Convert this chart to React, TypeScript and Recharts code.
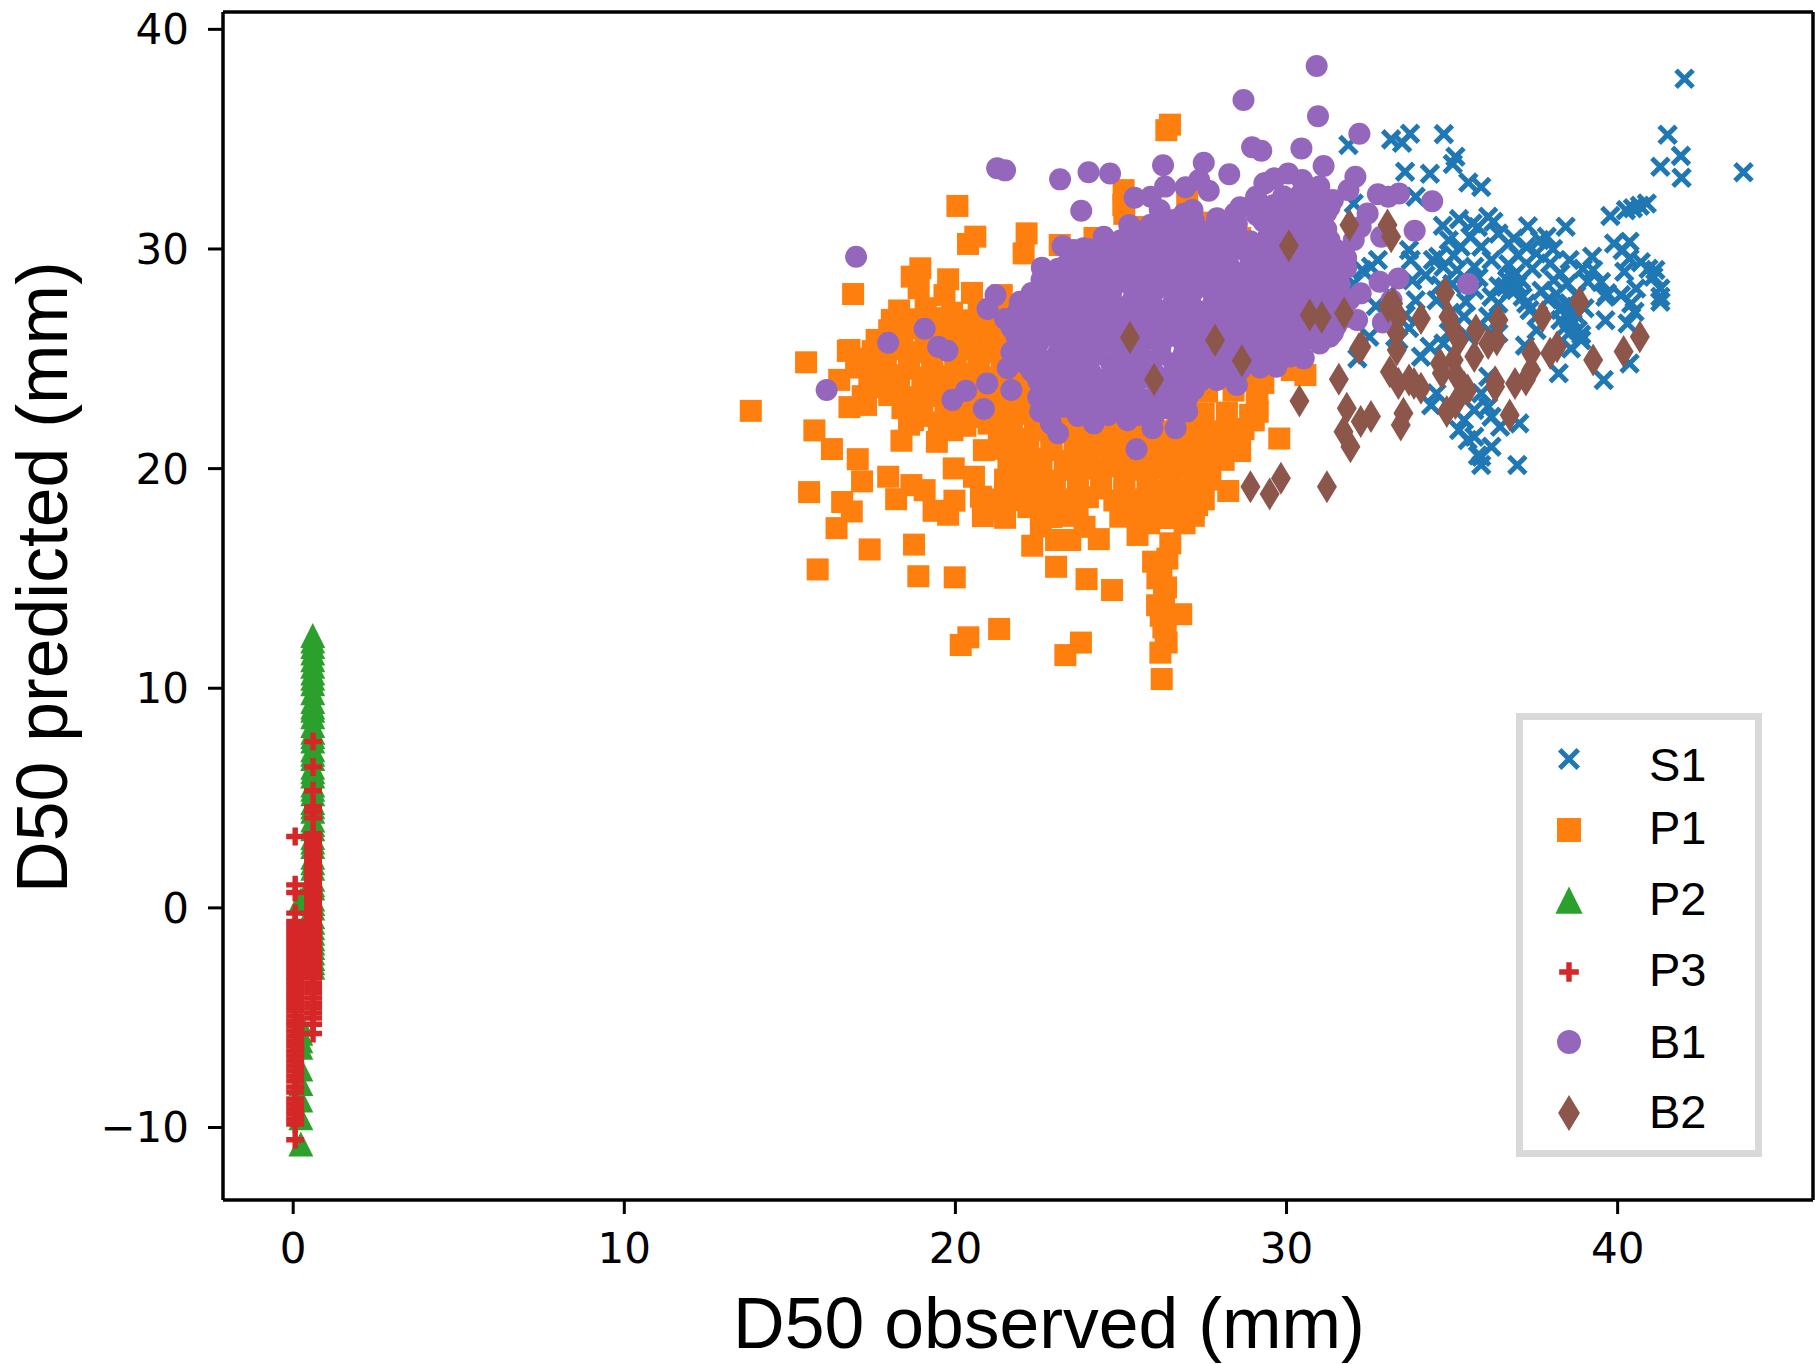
import { ScatterChart, Scatter, XAxis, YAxis, Legend, Label, ReferenceLine } from 'recharts';

const xTicks = [0, 10, 20, 30, 40];
const yTicks = [-10, 0, 10, 20, 30, 40];
const xDomain = [-2.12, 45.9];
const yDomain = [-13.3, 40.79];

const s1Points = [
  [42.02, 37.75], [41.51, 35.2], [41.91, 34.24], [41.29, 33.74], [41.93, 33.24], [43.8, 33.49], [31.87, 34.73], [33.16, 34.99],
  [33.49, 34.84], [33.73, 35.25], [34.75, 35.23], [35.1, 34.2], [35.02, 33.87], [33.58, 33.52], [34.33, 33.43], [35.49, 33.03],
  [35.88, 32.82], [33.9, 32.38], [32.03, 32.07], [34.72, 31.06], [35.21, 31.36], [35.62, 31.16], [35.78, 31.0], [36.09, 31.47],
  [36.25, 31.24], [37.29, 31.04], [38.43, 31.01], [39.78, 31.5], [40.25, 31.77], [40.46, 31.85], [40.67, 31.97], [40.88, 32.07],
  [40.36, 30.33], [39.89, 30.25], [40.15, 29.95], [40.36, 29.57], [40.2, 28.96], [39.23, 29.65], [39.26, 29.04], [39.1, 28.51],
  [39.68, 27.98], [39.63, 27.83], [40.93, 29.1], [41.14, 29.04], [41.08, 28.74], [41.29, 28.2], [41.29, 27.6], [41.29, 27.83],
  [40.56, 28.2], [40.41, 27.52], [40.51, 27.14], [40.3, 26.61], [39.63, 26.76], [40.36, 24.79], [39.58, 24.03], [38.22, 24.34],
  [38.9, 25.85], [38.59, 25.47], [36.82, 28.43], [36.92, 28.89], [36.71, 30.25], [36.87, 30.48], [37.24, 30.1], [37.65, 30.41],
  [37.86, 30.56], [37.55, 29.8], [37.96, 29.34], [38.27, 28.89], [38.48, 28.43], [38.07, 28.58], [37.24, 27.52], [37.13, 27.83],
  [37.34, 27.22], [37.55, 26.31], [36.19, 29.5], [35.88, 30.1], [35.26, 30.1], [35.67, 29.19], [35.15, 29.04], [34.58, 29.65],
  [34.74, 29.19], [34.42, 29.5], [33.7, 29.95], [33.75, 29.5], [32.55, 29.19], [32.29, 29.04], [32.76, 29.5], [31.72, 28.58],
  [32.03, 28.43], [33.8, 28.58], [33.9, 27.67], [34.53, 27.67], [35.36, 26.92], [36.09, 26.92], [36.4, 27.52], [36.19, 27.83],
  [35.67, 28.13], [36.19, 26.16], [36.4, 26.16], [34.74, 25.7], [34.32, 25.55], [34.06, 25.09], [33.38, 25.85], [32.5, 26.0],
  [32.14, 25.02], [33.28, 26.0], [36.09, 24.18], [34.53, 23.43], [34.37, 22.89], [35.88, 23.43], [35.67, 22.67], [36.09, 22.82],
  [35.36, 22.21], [35.21, 21.76], [35.67, 21.45], [35.47, 21.3], [36.19, 21.0], [35.88, 20.54], [35.88, 20.16], [36.97, 20.16],
  [37.03, 22.06], [36.45, 21.91], [36.19, 22.36], [35.78, 20.6], [38.33, 27.37], [38.48, 26.92], [38.64, 26.61], [38.43, 26.46],
  [38.27, 26.77], [38.69, 27.07], [38.53, 27.53], [38.8, 26.31], [38.53, 26.16], [38.27, 27.22], [38.6, 26.8], [38.9, 26.1],
  [36.66, 28.59], [36.97, 28.36], [36.77, 28.13], [36.92, 28.13], [36.61, 28.28], [37.08, 28.59], [36.82, 28.74], [35.0, 28.4],
  [35.42, 27.6], [34.95, 27.1], [36.7, 29.3], [37.42, 29.1], [38.75, 27.9], [37.9, 27.7], [33.6, 27.0], [34.9, 30.4],
  [35.55, 30.55], [36.4, 30.7], [37.0, 29.7], [38.05, 30.0], [38.55, 29.5], [38.95, 29.1], [37.7, 28.1], [38.15, 27.95],
  [35.05, 29.7], [34.2, 28.8], [34.65, 28.35], [35.8, 28.7], [36.4, 28.3], [37.6, 27.0], [39.0, 27.3], [39.5, 28.5],
  [40.7, 29.4], [40.1, 27.9], [33.1, 28.0], [32.7, 27.4], [33.7, 26.4], [34.9, 26.2], [35.5, 26.0], [37.2, 25.6],
];

const p1Points = [
  [26.48, 35.66], [26.37, 35.41], [25.08, 32.68], [25.07, 32.0], [20.06, 31.96], [20.6, 30.56], [20.38, 30.23], [22.15, 30.71],
  [22.06, 29.8], [23.15, 30.18], [18.94, 29.12], [18.68, 28.74], [19.78, 28.62], [19.67, 27.9], [18.89, 28.21], [16.91, 27.95],
  [15.49, 24.84], [13.82, 22.63], [16.75, 25.36], [16.49, 24.04], [17.62, 25.86], [18.08, 26.77], [15.74, 21.74], [16.27, 20.89],
  [17.05, 20.43], [15.58, 18.93], [17.18, 19.42], [17.97, 19.63], [18.67, 19.25], [19.07, 19.02], [16.58, 18.48], [16.87, 18.05],
  [16.41, 17.29], [17.41, 16.32], [18.75, 16.54], [15.84, 15.41], [18.88, 15.1], [19.98, 15.05], [18.37, 21.27], [19.44, 21.22],
  [18.72, 22.21], [19.91, 21.75], [19.95, 20.01], [18.21, 18.61], [19.34, 18.08], [19.78, 17.9], [19.97, 18.54], [20.83, 17.84],
  [21.5, 17.76], [20.77, 18.72], [20.56, 19.63], [20.86, 20.84], [21.31, 21.75], [21.69, 19.48], [21.75, 18.57], [21.96, 20.54],
  [22.39, 19.33], [22.72, 17.81], [22.58, 17.36], [22.32, 16.49], [23.04, 15.53], [23.04, 16.75], [23.47, 16.75], [23.96, 14.97],
  [24.73, 14.47], [24.33, 16.79], [23.9, 17.35], [25.5, 16.98], [26.49, 16.6], [25.97, 15.76], [26.22, 15.38], [26.36, 14.59],
  [26.09, 13.78], [26.82, 13.37], [26.28, 12.77], [26.38, 12.08], [26.19, 11.62], [26.23, 10.42], [21.32, 12.7], [20.39, 12.32],
  [20.16, 11.97], [23.79, 12.08], [23.32, 11.51], [28.24, 18.98], [29.78, 21.37], [29.13, 22.59], [28.06, 21.45], [27.69, 19.78],
  [27.3, 18.34], [26.92, 17.51], [26.6, 17.96], [25.85, 17.51], [24.98, 17.81], [23.69, 18.27], [30.57, 24.26], [30.16, 24.49],
  [29.12, 23.43], [29.01, 22.2], [25.1, 31.6], [25.6, 31.0], [26.2, 30.7], [24.2, 30.5], [24.9, 30.2], [27.0, 32.4],
  [27.4, 31.2], [28.2, 30.9], [28.6, 30.5],
  [18.3, 27.2], [19.1, 27.3], [19.9, 27.1], [20.7, 27.25], [21.5, 27.15], [22.1, 27.3], [20.5, 28.0], [21.4, 27.9],
  [18.0, 26.3], [18.7, 26.4], [19.4, 26.25], [20.1, 26.35], [20.9, 26.3], [21.5, 26.4], [16.8, 25.4], [17.5, 25.35],
  [18.2, 25.45], [18.9, 25.3], [19.6, 25.4], [20.3, 25.45], [21.0, 25.3], [21.7, 25.4], [17.0, 24.6], [17.8, 24.65],
  [18.6, 24.55], [19.3, 24.6], [20.0, 24.7], [20.7, 24.55], [21.4, 24.6], [17.6, 23.7], [18.3, 23.75], [19.1, 23.65],
  [19.8, 23.7], [20.5, 23.8], [21.2, 23.65], [21.9, 23.7], [16.8, 22.8], [17.3, 22.9], [18.4, 22.75], [19.0, 22.85],
  [19.7, 22.8], [20.4, 22.7], [21.1, 22.85], [21.8, 22.8], [22.5, 22.75], [18.6, 22.0], [19.5, 22.1], [20.3, 21.95],
  [21.0, 22.05], [21.7, 22.0], [22.4, 22.1], [23.1, 21.95], [21.4, 21.3], [22.2, 21.35], [22.9, 21.25], [23.6, 21.3],
  [24.3, 21.4], [25.0, 21.25], [25.7, 21.3], [26.4, 21.35], [27.1, 21.3], [27.8, 21.25], [28.4, 21.2], [21.6, 20.4],
  [22.5, 20.45], [23.3, 20.35], [24.0, 20.4], [24.7, 20.5], [25.4, 20.35], [26.1, 20.4], [26.8, 20.45], [27.5, 20.35],
  [28.1, 20.4], [21.5, 19.5], [22.2, 19.55], [23.0, 19.45], [23.7, 19.5], [24.4, 19.6], [25.1, 19.45], [25.8, 19.5],
  [26.5, 19.55], [27.2, 19.45], [27.7, 19.5], [21.2, 18.6], [21.9, 18.65], [22.6, 18.55], [23.3, 18.6], [24.0, 18.7],
  [24.8, 18.55], [25.5, 18.6], [26.2, 18.65], [26.9, 18.55], [27.5, 18.6], [22.9, 17.8], [23.5, 17.85], [25.6, 17.8],
  [26.3, 17.75], [27.2, 17.85], [27.5, 22.5], [28.2, 22.55], [28.9, 22.45], [27.6, 23.5], [28.4, 23.55], [29.1, 23.4],
  [24.0, 22.2], [24.9, 22.3], [25.8, 22.1], [26.7, 22.25], [27.4, 21.9], [23.5, 22.6], [22.9, 23.3], [22.3, 24.2],
  [18.7, 26.8], [19.5, 26.85], [20.3, 26.75], [21.1, 26.8], [21.8, 26.9], [18.4, 25.9], [19.1, 25.95], [19.8, 25.85],
  [20.5, 25.9], [21.2, 26.0], [17.2, 25.0], [17.9, 25.05], [18.6, 24.95], [19.3, 25.0], [20.0, 25.1], [20.7, 24.95],
  [21.4, 25.0], [17.4, 24.2], [18.2, 24.25], [19.0, 24.15], [19.7, 24.2], [20.4, 24.3], [21.1, 24.15], [21.8, 24.2],
  [17.2, 23.3], [18.0, 23.35], [18.7, 23.25], [19.4, 23.3], [20.1, 23.4], [20.8, 23.25], [21.5, 23.3], [22.2, 23.35],
  [18.9, 22.4], [19.9, 22.45], [20.7, 22.35], [21.4, 22.4], [22.1, 22.5], [22.8, 22.35], [23.5, 22.2], [21.7, 21.7],
  [22.5, 21.75], [23.3, 21.65], [24.0, 21.7], [24.7, 21.8], [25.4, 21.65], [26.1, 21.7], [26.8, 21.75], [27.5, 21.65],
  [28.1, 21.7], [28.7, 21.8], [21.5, 20.9], [22.1, 20.95], [22.9, 20.85], [23.7, 20.9], [24.4, 21.0], [25.1, 20.85],
  [25.8, 20.9], [26.5, 20.95], [27.2, 20.85], [27.9, 20.9], [21.8, 20.0], [22.6, 20.05], [23.4, 19.95], [24.1, 20.0],
  [24.8, 20.1], [25.5, 19.95], [26.2, 20.0], [26.9, 20.05], [27.6, 19.95], [21.5, 19.0], [22.3, 19.05], [23.0, 18.95],
  [23.7, 19.0], [24.4, 19.1], [25.1, 18.95], [25.9, 19.0], [26.6, 19.05], [27.3, 18.95], [21.0, 18.2], [22.2, 18.25],
  [23.0, 18.15], [25.2, 18.2], [25.9, 18.25], [26.6, 18.15], [27.2, 18.2], [26.4, 15.9], [26.1, 15.0], [26.3, 14.1],
  [26.2, 13.3], [26.35, 12.4], [29.3, 23.9], [28.8, 24.3], [28.6, 20.8],
];

const p2Points = [
  [0.59, 12.4], [0.59, 11.9], [0.59, 11.6], [0.59, 11.3], [0.59, 11.0], [0.59, 10.7], [0.59, 10.2], [0.59, 9.8], [0.59, 9.4],
  [0.59, 9.0], [0.59, 8.7], [0.59, 8.3], [0.59, 8.0], [0.59, 7.6], [0.59, 7.2], [0.59, 6.8], [0.59, 6.4], [0.59, 6.0],
  [0.59, 5.6], [0.59, 5.2], [0.59, 4.8], [0.59, 4.4], [0.59, 4.0], [0.59, 3.6], [0.59, 3.2], [0.59, 2.8], [0.59, 2.3],
  [0.59, 1.8], [0.59, 1.3], [0.59, 0.9], [0.59, 0.4], [0.59, 0.0], [0.59, -0.4], [0.59, -0.9], [0.59, -1.4], [0.59, -1.8],
  [0.59, -2.3], [0.59, -2.7], [0.23, 0.36], [0.23, -5.3], [0.23, -5.71], [0.23, -6.05], [0.23, -6.35], [0.23, -7.33],
  [0.23, -8.0], [0.23, -8.75], [0.23, -9.56], [0.23, -10.75], [0.59, 12.15], [0.59, 10.45], [0.59, 9.15], [0.59, 7.8],
  [0.59, 7.0], [0.59, 6.2], [0.59, 5.4], [0.59, 4.6], [0.59, 3.8], [0.59, 3.0], [0.59, 2.05], [0.59, 1.05], [0.59, 0.2],
  [0.59, -0.65], [0.59, -1.15], [0.59, -1.6], [0.59, -2.05], [0.59, -2.5],
];

const p3Points = [
  [0.6, 7.57], [0.6, 6.42], [0.6, 5.33], [0.6, 4.61], [0.6, 4.37], [0.6, 4.1], [0.6, 3.38], [0.6, 3.15], [0.6, 2.93], [0.6, 2.7],
  [0.6, 2.46], [0.6, 2.24], [0.6, 2.01], [0.6, 1.78], [0.6, 1.56], [0.6, 1.33], [0.6, 1.1], [0.6, 0.88], [0.6, 0.65], [0.6, 0.42],
  [0.6, 0.2], [0.6, -0.03], [0.6, -0.26], [0.6, -0.48], [0.6, -0.71], [0.6, -0.94], [0.6, -1.16], [0.6, -1.39], [0.6, -1.62],
  [0.6, -1.84], [0.6, -2.07], [0.6, -2.3], [0.6, -2.52], [0.6, -2.75], [0.6, -2.98], [0.6, -3.2], [0.6, -3.43], [0.6, -3.66],
  [0.6, -3.88], [0.6, -4.11], [0.6, -4.34], [0.6, -4.56], [0.6, -4.79], [0.6, -5.02], [0.6, -5.3], [0.6, -5.72],
  [0.06, 3.25], [0.06, 1.05], [0.06, 0.7], [0.06, -0.24], [0.06, -0.62], [0.06, -0.85], [0.06, -1.08], [0.06, -1.3], [0.06, -1.53],
  [0.06, -1.76], [0.06, -1.98], [0.06, -2.21], [0.06, -2.44], [0.06, -2.66], [0.06, -2.89], [0.06, -3.12], [0.06, -3.34], [0.06, -3.57],
  [0.06, -3.8], [0.06, -4.02], [0.06, -4.25], [0.06, -4.48], [0.06, -4.7], [0.06, -4.93], [0.06, -5.16], [0.06, -5.38], [0.06, -5.61],
  [0.06, -5.84], [0.06, -6.06], [0.06, -6.29], [0.06, -6.52], [0.06, -6.74], [0.06, -6.97], [0.06, -7.2], [0.06, -7.42], [0.06, -7.65],
  [0.06, -7.88], [0.06, -8.15], [0.06, -8.38], [0.06, -8.7], [0.06, -8.93], [0.06, -9.16], [0.06, -9.38], [0.06, -9.61], [0.06, -9.84],
  [0.06, -10.56],
];

const b1Points = [
  [28.7, 36.78], [28.96, 34.63], [29.24, 34.47], [21.26, 33.68], [21.5, 33.58], [23.16, 33.17], [24.02, 33.49], [24.67, 33.44],
  [26.27, 33.81], [27.5, 33.93], [28.27, 33.4], [29.62, 33.21], [23.8, 31.74], [17.0, 29.65], [22.61, 29.15], [25.41, 32.33],
  [25.9, 32.38], [26.33, 32.84], [26.95, 32.81], [27.36, 33.14], [27.65, 32.65], [26.17, 31.77], [27.16, 31.77], [26.6, 31.32],
  [27.9, 31.4], [28.44, 31.62], [29.08, 32.38], [29.35, 32.99], [25.25, 31.09], [24.48, 30.56], [23.24, 30.13], [23.87, 30.03],
  [23.58, 29.95], [28.11, 30.56], [28.06, 29.57], [21.21, 27.9], [20.97, 27.27], [21.5, 26.81], [23.58, 28.66], [22.95, 28.28],
  [22.39, 27.45], [22.02, 26.84], [19.07, 26.37], [17.97, 25.73], [19.48, 25.55], [19.76, 25.37], [16.11, 23.58], [21.69, 25.31],
  [21.58, 24.57], [21.69, 23.58], [20.96, 23.88], [20.32, 23.55], [19.91, 23.13], [20.86, 22.72], [22.5, 23.25], [23.3, 22.82],
  [22.56, 22.6], [22.88, 22.06], [23.1, 21.61], [24.18, 22.06], [24.61, 22.44], [24.88, 22.9], [25.52, 22.44], [25.95, 21.84],
  [26.65, 21.84], [26.71, 22.52], [24.12, 22.52], [27.9, 24.04], [28.5, 23.81], [25.47, 20.88], [30.91, 38.33], [30.95, 36.04],
  [32.2, 35.25], [30.45, 34.58], [31.12, 33.78], [32.08, 33.29], [31.87, 32.68], [32.76, 32.49], [33.4, 32.53], [33.07, 32.38],
  [34.4, 32.17], [33.87, 30.83], [35.48, 28.41], [33.38, 28.66], [32.81, 28.51], [32.24, 27.98], [33.17, 27.68], [32.91, 26.65],
  [32.13, 26.77], [31.4, 26.19], [30.52, 25.02], [29.69, 24.64], [30.47, 26.01], [29.33, 32.99], [30.05, 33.44], [29.64, 33.21],
  [30.47, 33.14], [30.99, 32.84], [31.4, 32.23], [32.45, 31.62], [32.24, 31.0], [32.03, 30.41], [31.72, 29.8], [31.51, 29.19],
  [32.86, 30.56],
  [22.9, 23.2], [23.7, 23.3], [24.3, 23.1], [25.0, 23.25], [25.7, 23.15], [26.4, 23.3], [27.0, 23.2], [22.5, 24.0],
  [23.1, 24.1], [23.8, 23.95], [24.4, 24.05], [25.1, 24.0], [25.6, 24.1], [26.3, 23.9], [26.9, 24.05], [27.4, 24.0],
  [22.1, 24.8], [22.8, 24.9], [23.4, 24.75], [24.0, 24.85], [24.7, 24.8], [25.3, 24.7], [25.9, 24.85], [26.6, 24.8],
  [27.2, 24.9], [27.8, 24.75], [28.4, 24.8], [29.0, 24.9], [29.6, 25.0], [30.1, 25.1], [21.9, 25.6], [22.5, 25.7],
  [23.2, 25.55], [23.8, 25.65], [24.4, 25.6], [25.0, 25.5], [25.6, 25.65], [26.2, 25.6], [26.9, 25.7], [27.5, 25.55],
  [28.1, 25.6], [28.7, 25.65], [29.3, 25.6], [29.9, 25.7], [30.4, 25.6], [31.0, 25.7], [21.7, 26.4], [22.4, 26.5],
  [23.0, 26.35], [23.6, 26.45], [24.2, 26.4], [24.9, 26.3], [25.5, 26.45], [26.1, 26.4], [26.7, 26.5], [27.3, 26.35],
  [27.9, 26.4], [28.6, 26.45], [29.2, 26.4], [29.8, 26.5], [30.4, 26.4], [31.0, 26.45], [31.5, 26.5], [21.9, 27.2],
  [22.6, 27.3], [23.1, 27.15], [23.8, 27.25], [24.4, 27.2], [25.0, 27.1], [25.6, 27.25], [26.3, 27.2], [26.8, 27.3],
  [27.5, 27.15], [28.1, 27.2], [28.7, 27.25], [29.3, 27.2], [29.9, 27.3], [30.5, 27.2], [31.1, 27.25], [31.6, 27.2],
  [22.3, 28.0], [22.9, 28.1], [23.5, 27.95], [24.1, 28.05], [24.7, 28.0], [25.4, 27.9], [26.0, 28.05], [26.6, 28.0],
  [27.2, 28.1], [27.8, 27.95], [28.4, 28.0], [29.0, 28.05], [29.6, 28.0], [30.2, 28.1], [30.8, 28.0], [31.3, 28.05],
  [22.9, 28.8], [23.6, 28.9], [24.3, 28.75], [24.9, 28.85], [25.5, 28.8], [26.1, 28.7], [26.8, 28.85], [27.4, 28.8],
  [28.0, 28.9], [28.6, 28.75], [29.2, 28.8], [29.8, 28.85], [30.4, 28.8], [31.0, 28.9], [31.5, 28.8], [24.2, 29.6],
  [24.9, 29.7], [25.5, 29.55], [26.2, 29.65], [26.8, 29.6], [27.5, 29.5], [28.2, 29.65], [28.9, 29.6], [29.4, 29.7],
  [30.0, 29.55], [30.6, 29.6], [31.2, 29.65], [31.8, 29.6], [25.0, 30.4], [25.6, 30.5], [26.2, 30.35], [26.8, 30.45],
  [27.3, 30.4], [28.4, 30.3], [29.4, 30.45], [30.0, 30.4], [30.6, 30.5], [31.3, 30.4], [26.6, 31.2], [27.2, 31.3],
  [28.5, 31.15], [29.3, 31.25], [29.9, 31.2], [30.5, 31.1], [31.0, 31.25], [29.6, 32.0], [30.2, 32.1], [30.8, 31.95],
  [23.3, 23.6], [24.0, 23.65], [24.7, 23.55], [25.4, 23.6], [26.1, 23.7], [26.7, 23.55], [27.2, 23.6], [22.8, 24.4],
  [23.5, 24.45], [24.1, 24.35], [24.8, 24.4], [25.4, 24.5], [26.0, 24.35], [26.6, 24.4], [27.1, 24.45], [27.7, 24.35],
  [22.4, 25.2], [23.1, 25.25], [23.7, 25.15], [24.3, 25.2], [25.0, 25.3], [25.6, 25.15], [26.2, 25.2], [26.9, 25.25],
  [27.5, 25.15], [28.1, 25.2], [28.7, 25.3], [29.3, 25.15], [29.9, 25.2], [30.4, 25.25], [22.2, 26.0], [22.8, 26.05],
  [23.5, 25.95], [24.1, 26.0], [24.7, 26.1], [25.3, 25.95], [25.9, 26.0], [26.5, 26.05], [27.2, 25.95], [27.8, 26.0],
  [28.4, 26.1], [29.0, 25.95], [29.6, 26.0], [30.2, 26.05], [30.7, 25.95], [31.3, 26.0], [22.1, 26.8], [22.7, 26.85],
  [23.3, 26.75], [23.9, 26.8], [24.5, 26.9], [25.2, 26.75], [25.8, 26.8], [26.4, 26.85], [27.0, 26.75], [27.6, 26.8],
  [28.2, 26.9], [28.9, 26.75], [29.5, 26.8], [30.1, 26.85], [30.7, 26.75], [31.3, 26.8], [31.8, 26.9], [22.3, 27.6],
  [22.9, 27.65], [23.5, 27.55], [24.1, 27.6], [24.7, 27.7], [25.3, 27.55], [25.9, 27.6], [26.6, 27.65], [27.1, 27.55],
  [27.8, 27.6], [28.4, 27.7], [29.0, 27.55], [29.6, 27.6], [30.2, 27.65], [30.8, 27.55], [31.4, 27.6], [31.9, 27.7],
  [22.7, 28.4], [23.2, 28.45], [23.8, 28.35], [24.4, 28.4], [25.0, 28.5], [25.7, 28.35], [26.3, 28.4], [26.9, 28.45],
  [27.5, 28.35], [28.1, 28.4], [28.7, 28.5], [29.3, 28.35], [29.9, 28.4], [30.5, 28.45], [31.1, 28.35], [31.6, 28.4],
  [23.3, 29.2], [23.9, 29.25], [24.6, 29.15], [25.2, 29.2], [25.8, 29.3], [26.4, 29.15], [27.1, 29.2], [27.7, 29.25],
  [28.3, 29.15], [28.9, 29.2], [29.5, 29.3], [30.1, 29.15], [30.7, 29.2], [31.3, 29.25], [31.8, 29.15], [24.6, 30.0],
  [25.2, 30.05], [25.8, 29.95], [26.5, 30.0], [27.1, 30.1], [27.8, 29.95], [28.5, 30.0], [29.2, 30.05], [29.7, 29.95],
  [30.3, 30.0], [30.9, 30.1], [31.5, 29.95], [25.6, 30.8], [26.2, 30.85], [26.8, 30.75], [27.5, 30.8], [28.5, 30.7],
  [29.5, 30.85], [30.0, 30.75], [30.6, 30.8], [31.2, 30.9], [26.9, 31.6], [28.6, 31.9], [29.1, 31.55], [29.7, 31.65],
  [30.2, 31.6], [30.7, 31.5], [31.2, 31.65], [29.9, 32.4], [30.4, 32.45], [30.9, 32.35], [31.3, 31.9],
  [23.4, 23.0], [24.0, 22.85], [24.6, 23.0], [25.2, 22.85], [25.8, 22.95], [26.4, 22.75], [26.0, 22.4], [25.2, 22.2],
  [24.4, 22.7], [23.7, 22.4], [26.6, 22.95], [27.0, 22.6], [23.0, 22.7], [22.7, 23.8], [27.6, 24.7], [28.1, 24.35],
  [28.6, 24.5], [29.2, 24.6], [22.3, 24.45], [22.0, 25.2], [21.85, 26.0], [21.95, 27.6], [22.6, 28.6], [23.1, 29.1],
  [23.6, 29.5], [24.0, 30.0], [24.5, 30.3], [25.3, 30.7], [27.9, 30.2], [28.9, 30.35], [27.9, 30.85], [25.9, 31.1],
];

const b2Points = [
  [31.9, 31.09], [33.05, 31.09], [33.16, 30.56], [30.07, 30.15], [34.79, 28.01], [38.85, 27.57], [37.73, 26.92], [30.7, 27.0],
  [31.06, 26.89], [31.74, 27.07], [33.07, 27.37], [33.22, 27.52], [33.38, 26.92], [34.06, 26.84], [36.4, 26.77], [35.72, 26.31],
  [34.89, 26.92], [35.05, 26.31], [35.21, 25.86], [32.19, 25.47], [32.26, 25.55], [33.33, 26.16], [33.33, 25.4], [38.17, 25.55],
  [37.96, 25.25], [37.39, 25.25], [37.39, 24.49], [37.23, 24.04], [40.67, 26.0], [40.18, 25.33], [39.26, 24.95], [36.3, 23.96],
  [36.3, 23.73], [35.67, 25.1], [36.09, 25.7], [36.35, 25.86], [34.63, 24.79], [34.69, 24.34], [35.05, 24.95], [35.15, 24.19],
  [35.36, 23.73], [35.47, 23.58], [35.1, 22.97], [34.84, 22.6], [33.12, 24.41], [33.38, 23.88], [33.7, 24.04], [34.06, 23.66],
  [33.85, 23.88], [36.9, 23.88], [31.58, 24.07], [30.39, 23.08], [31.82, 22.75], [32.24, 22.14], [32.55, 22.37], [33.53, 22.52],
  [33.45, 21.99], [31.72, 21.68], [31.93, 21.0], [36.74, 22.44], [29.83, 19.56], [29.49, 18.85], [28.91, 19.18], [31.22, 19.18],
  [25.27, 25.97], [27.84, 25.85], [28.65, 24.91], [26.0, 24.06],
];

const seriesNames = ['S1', 'P1', 'P2', 'P3', 'B1', 'B2'];
const seriesColors = ['#1f77b4', '#ff7f0e', '#2ca02c', '#d62728', '#9467bd', '#8c564b'];

const toRows = (pts: number[][]) => pts.map(([x, y]) => ({ x, y }));

function marker(kind: string, cx: number, cy: number, color: string, k = 1) {
  if (kind === 'S1') {
    const a = 8.5 * k;
    return (
      <path
        d={`M${cx - a} ${cy - a}L${cx + a} ${cy + a}M${cx - a} ${cy + a}L${cx + a} ${cy - a}`}
        stroke={color}
        strokeWidth={5}
        fill="none"
      />
    );
  }
  if (kind === 'P1') {
    const a = 11 * k;
    return <rect x={cx - a} y={cy - a} width={a * 2} height={a * 2} fill={color} />;
  }
  if (kind === 'P2') {
    const a = 12.5 * k;
    return <path d={`M${cx} ${cy - a}L${cx + a} ${cy + a}L${cx - a} ${cy + a}Z`} fill={color} />;
  }
  if (kind === 'P3') {
    const a = 9 * k;
    return (
      <path d={`M${cx - a} ${cy}L${cx + a} ${cy}M${cx} ${cy - a}L${cx} ${cy + a}`} stroke={color} strokeWidth={5.4} fill="none" />
    );
  }
  if (kind === 'B1') {
    return <circle cx={cx} cy={cy} r={11 * k} fill={color} />;
  }
  const w = 10 * k;
  const h = 16.5 * k;
  return <path d={`M${cx} ${cy - h}L${cx + w} ${cy}L${cx} ${cy + h}L${cx - w} ${cy}Z`} fill={color} />;
}

const allPoints = [s1Points, p1Points, p2Points, p3Points, b1Points, b2Points];

// symbol centre and text baseline of each legend row, measured inside the box
const legendSymbolY = [46, 117, 187, 259, 329, 400];
const legendTextY = [68, 131, 202, 273, 345, 415];

function LegendBox() {
  return (
    <svg width={246} height={444} style={{ display: 'block' }}>
      <rect x={3.5} y={3.5} width={239} height={437} fill="#fff" stroke="#d9d9d9" strokeWidth={7} />
      {seriesNames.map((name, i) => (
        <g key={name}>
          {marker(name, 53, legendSymbolY[i], seriesColors[i], 1.09)}
          <text x={133} y={legendTextY[i]} fontFamily="'Liberation Sans', sans-serif" fontSize={47} fill="#000">
            {name}
          </text>
        </g>
      ))}
    </svg>
  );
}

const tickFont = { fontFamily: "'DejaVu Sans', sans-serif", fontSize: 42, fill: '#000' };
const labelFont = { fontFamily: "'Liberation Sans', sans-serif", fontSize: 71.5, fill: '#000', textAnchor: 'middle' };

export default function App() {
  return (
    <div style={{ position: 'absolute', left: 0, top: 0, width: 1815, height: 1364, background: '#fff' }}>
      <ScatterChart width={1815} height={1364} margin={{ top: 12, right: 2, bottom: 0, left: 0 }}>
        <XAxis
          type="number"
          dataKey="x"
          domain={xDomain}
          ticks={xTicks}
          height={164}
          interval={0}
          allowDataOverflow
          axisLine={{ stroke: '#000', strokeWidth: 3.5 }}
          tickLine={{ stroke: '#000', strokeWidth: 3 }}
          tickSize={14}
          tickMargin={19}
          tick={tickFont}
        >
          <Label value="D50 observed (mm)" position={{ x: 826, y: 148 }} style={labelFont} />
        </XAxis>
        <YAxis
          type="number"
          dataKey="y"
          domain={yDomain}
          ticks={yTicks}
          width={223}
          interval={0}
          allowDataOverflow
          axisLine={{ stroke: '#000', strokeWidth: 3.5 }}
          tickLine={{ stroke: '#000', strokeWidth: 3 }}
          tickSize={15}
          tickMargin={19}
          tick={tickFont}
          tickFormatter={(v: number) => String(v).replace('-', '\u2212')}
        >
          <Label value="D50 predicted (mm)" angle={-90} position={{ x: 67, y: 565 }} style={labelFont} />
        </YAxis>
        <ReferenceLine y={yDomain[1]} stroke="#000" strokeWidth={3.5} ifOverflow="visible" />
        <ReferenceLine x={xDomain[1]} stroke="#000" strokeWidth={3.5} ifOverflow="visible" />
        {seriesNames.map((name, i) => (
          <Scatter
            key={name}
            name={name}
            data={toRows(allPoints[i])}
            fill={seriesColors[i]}
            isAnimationActive={false}
            shape={(p: any) => marker(name, p.cx, p.cy, seriesColors[i])}
          />
        ))}
        <Legend
          layout="vertical"
          align="center"
          verticalAlign="middle"
          wrapperStyle={{ left: 1516, top: 713, width: 246, height: 444 }}
          content={() => <LegendBox />}
        />
      </ScatterChart>
    </div>
  );
}
